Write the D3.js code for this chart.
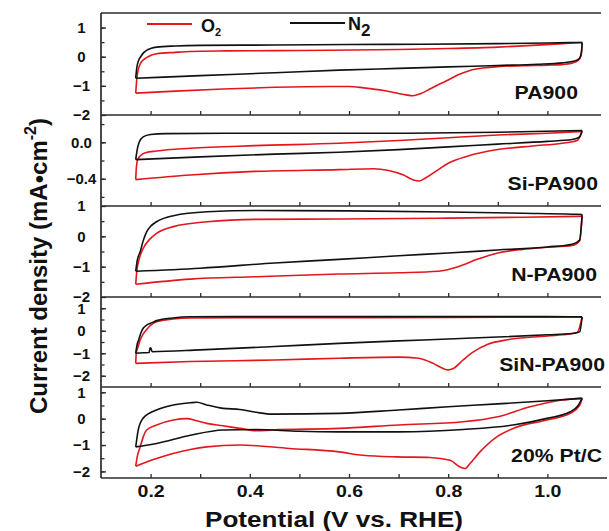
<!DOCTYPE html>
<html>
<head>
<meta charset="utf-8">
<script src="https://cdn.jsdelivr.net/npm/d3@7"></script>
<style>
  body { margin: 0; background: #fff; }
  text { font-family: Arial, "Liberation Sans", sans-serif; font-weight: bold; fill: #111; }
</style>
</head>
<body>
<svg id="chart" width="609" height="531"></svg>
<script>
// ---- Cyclic voltammograms: [potential (V vs. RHE), current density (mA cm^-2)] ----
// Fwd = anodic sweep (upper branch), Rev = cathodic sweep (lower branch)

// PA900
const pa900O2Fwd = [[0.17,-1.25],[0.172,-0.8],[0.175,-0.45],[0.18,-0.22],[0.186,-0.1],[0.195,0.0],[0.212,0.1],[0.25,0.15],[0.28,0.18],[0.35,0.2],[0.45,0.21],[0.56,0.22],[0.7,0.25],[0.8,0.28],[0.9,0.33],[0.96,0.38],[1.03,0.45],[1.07,0.49]];
const pa900O2Rev = [[0.17,-1.25],[0.25,-1.18],[0.346,-1.11],[0.45,-1.05],[0.56,-1.02],[0.6,-1.02],[0.63,-1.07],[0.67,-1.16],[0.7,-1.26],[0.715,-1.31],[0.729,-1.34],[0.745,-1.26],[0.763,-1.11],[0.78,-0.96],[0.8,-0.8],[0.82,-0.62],[0.844,-0.47],[0.87,-0.39],[0.9,-0.34],[0.95,-0.31],[1.0,-0.29],[1.03,-0.27],[1.05,-0.22],[1.062,-0.13],[1.068,0.05],[1.07,0.49]];
const pa900N2Fwd = [[0.17,-0.74],[0.172,-0.4],[0.176,-0.12],[0.18,0.0],[0.186,0.14],[0.192,0.22],[0.2,0.28],[0.212,0.33],[0.25,0.37],[0.3,0.39],[0.45,0.4],[0.6,0.42],[0.75,0.43],[0.9,0.45],[1.0,0.47],[1.07,0.49]];
const pa900N2Rev = [[0.17,-0.74],[0.3,-0.65],[0.45,-0.55],[0.58,-0.46],[0.7,-0.4],[0.8,-0.35],[0.9,-0.3],[0.98,-0.26],[1.03,-0.21],[1.055,-0.15],[1.065,-0.05],[1.069,0.2],[1.07,0.49]];

// Si-PA900
const siO2Fwd = [[0.17,-0.41],[0.171,-0.3],[0.174,-0.19],[0.18,-0.145],[0.19,-0.115],[0.212,-0.096],[0.28,-0.066],[0.41,-0.037],[0.58,-0.011],[0.7,0.02],[0.8,0.05],[0.9,0.08],[1.0,0.1],[1.07,0.12]];
const siO2Rev = [[0.17,-0.41],[0.28,-0.36],[0.41,-0.32],[0.58,-0.3],[0.65,-0.29],[0.68,-0.31],[0.71,-0.36],[0.73,-0.415],[0.742,-0.425],[0.755,-0.39],[0.78,-0.3],[0.8,-0.23],[0.84,-0.15],[0.9,-0.08],[0.97,-0.04],[1.03,-0.01],[1.06,0.02],[1.07,0.12]];
const siN2Fwd = [[0.17,-0.19],[0.173,-0.08],[0.177,0.0],[0.185,0.06],[0.2,0.085],[0.23,0.095],[0.4,0.1],[0.7,0.1],[0.9,0.11],[1.07,0.13]];
const siN2Rev = [[0.17,-0.19],[0.3,-0.16],[0.45,-0.13],[0.58,-0.11],[0.7,-0.08],[0.8,-0.05],[0.9,-0.02],[1.0,0.01],[1.05,0.03],[1.065,0.06],[1.07,0.13]];

// N-PA900
const nO2Fwd = [[0.17,-1.58],[0.172,-1.17],[0.177,-0.75],[0.185,-0.4],[0.198,-0.1],[0.212,0.1],[0.246,0.32],[0.314,0.48],[0.415,0.56],[0.58,0.57],[0.8,0.6],[0.95,0.63],[1.07,0.66]];
const nO2Rev = [[0.17,-1.58],[0.28,-1.41],[0.415,-1.33],[0.58,-1.24],[0.7,-1.2],[0.78,-1.15],[0.82,-1.0],[0.86,-0.75],[0.9,-0.55],[0.95,-0.43],[1.0,-0.36],[1.05,-0.3],[1.065,-0.15],[1.07,0.66]];
const nN2Fwd = [[0.17,-1.15],[0.173,-0.8],[0.179,-0.51],[0.185,-0.15],[0.192,0.15],[0.2,0.33],[0.212,0.48],[0.246,0.68],[0.314,0.81],[0.415,0.85],[0.6,0.84],[0.8,0.8],[0.95,0.76],[1.05,0.73],[1.07,0.72]];
const nN2Rev = [[0.17,-1.15],[0.3,-1.05],[0.45,-0.88],[0.58,-0.76],[0.7,-0.64],[0.8,-0.55],[0.9,-0.45],[1.0,-0.35],[1.05,-0.26],[1.065,-0.12],[1.07,0.72]];

// SiN-PA900
const sinO2Fwd = [[0.17,-1.45],[0.171,-1.0],[0.175,-0.7],[0.179,-0.41],[0.185,-0.15],[0.192,0.06],[0.2,0.24],[0.212,0.4],[0.245,0.52],[0.28,0.57],[0.5,0.58],[0.8,0.59],[1.0,0.6],[1.07,0.6]];
const sinO2Rev = [[0.17,-1.45],[0.28,-1.37],[0.45,-1.3],[0.58,-1.22],[0.7,-1.17],[0.74,-1.22],[0.77,-1.45],[0.79,-1.68],[0.8,-1.74],[0.81,-1.68],[0.83,-1.3],[0.85,-0.95],[0.88,-0.6],[0.92,-0.4],[0.97,-0.28],[1.03,-0.18],[1.06,-0.08],[1.07,0.6]];
const sinN2Fwd = [[0.17,-1.0],[0.173,-0.6],[0.176,-0.41],[0.18,-0.12],[0.185,0.11],[0.192,0.25],[0.2,0.33],[0.212,0.45],[0.245,0.57],[0.28,0.62],[0.5,0.63],[0.8,0.63],[1.0,0.63],[1.07,0.62]];
const sinN2Rev = [[0.17,-1.0],[0.185,-0.98],[0.197,-0.97],[0.199,-0.76],[0.201,-0.8],[0.203,-0.93],[0.3,-0.85],[0.45,-0.7],[0.58,-0.56],[0.7,-0.45],[0.8,-0.37],[0.9,-0.28],[1.0,-0.18],[1.05,-0.12],[1.065,-0.05],[1.07,0.62]];

// 20% Pt/C
const ptO2Fwd = [[0.17,-1.8],[0.173,-1.45],[0.179,-1.07],[0.185,-0.7],[0.192,-0.43],[0.212,-0.24],[0.246,-0.05],[0.273,0.0],[0.293,-0.08],[0.313,-0.18],[0.346,-0.27],[0.38,-0.37],[0.413,-0.46],[0.445,-0.43],[0.58,-0.37],[0.7,-0.24],[0.83,-0.12],[0.9,0.07],[0.965,0.45],[1.03,0.71],[1.07,0.77]];
const ptO2Rev = [[0.17,-1.8],[0.212,-1.51],[0.28,-1.17],[0.313,-1.07],[0.38,-1.0],[0.48,-1.13],[0.58,-1.26],[0.628,-1.39],[0.697,-1.45],[0.763,-1.47],[0.804,-1.58],[0.824,-1.83],[0.834,-1.89],[0.844,-1.7],[0.864,-1.26],[0.898,-0.69],[0.931,-0.37],[0.999,-0.05],[1.046,0.2],[1.065,0.5],[1.07,0.77]];
const ptN2Fwd = [[0.17,-1.07],[0.172,-0.8],[0.175,-0.43],[0.185,0.02],[0.212,0.33],[0.246,0.52],[0.28,0.6],[0.293,0.62],[0.313,0.52],[0.346,0.39],[0.38,0.35],[0.413,0.24],[0.445,0.17],[0.58,0.2],[0.7,0.33],[0.8,0.45],[0.9,0.56],[1.0,0.68],[1.07,0.77]];
const ptN2Rev = [[0.17,-1.07],[0.212,-0.94],[0.28,-0.63],[0.346,-0.43],[0.413,-0.41],[0.5,-0.48],[0.58,-0.5],[0.7,-0.5],[0.83,-0.41],[0.931,-0.24],[0.999,0.01],[1.046,0.26],[1.062,0.5],[1.07,0.77]];

// ---- Panels, axes and ticks ----
const panelNames = ["PA900", "Si-PA900", "N-PA900", "SiN-PA900", "20% Pt/C"];
const panelDomains = [[-2, 1.5], [-0.7, 0.3], [-2, 1], [-2.5, 1.5], [-2.25, 1.2]];
const yTickLabels = [[1, 0, -1, -2], [0.0, -0.4], [1, 0, -1, -2], [1, 0, -1, -2], [1, 0, -1, -2]];
const yTickFormats = ["d", ".1f", "d", "d", "d"];
const yMinorTicks = [
  [1, 0.5, 0, -0.5, -1, -1.5],
  [0.2, 0, -0.2, -0.4, -0.6],
  [0.5, 0, -0.5, -1, -1.5],
  [1, 0.5, 0, -0.5, -1, -1.5, -2],
  [1, 0.5, 0, -0.5, -1, -1.5, -2]
];
const xTickLabels = [0.2, 0.4, 0.6, 0.8, 1.0];
const xMinorTicks = [0.2, 0.3, 0.4, 0.5, 0.6, 0.7, 0.8, 0.9, 1.0];
const panelCurves = [
  { o2: [pa900O2Fwd, pa900O2Rev], n2: [pa900N2Fwd, pa900N2Rev] },
  { o2: [siO2Fwd, siO2Rev],       n2: [siN2Fwd, siN2Rev] },
  { o2: [nO2Fwd, nO2Rev],         n2: [nN2Fwd, nN2Rev] },
  { o2: [sinO2Fwd, sinO2Rev],     n2: [sinN2Fwd, sinN2Rev] },
  { o2: [ptO2Fwd, ptO2Rev],       n2: [ptN2Fwd, ptN2Rev] }
];

// ---- Layout ----
const left = 101, right = 597;
const panelEdges = [13, 115, 206, 297, 387, 478];
const labelEnds = [578, 598, 597, 605, 602];
const red = "#e3161e", black = "#111";
const frame = "#2b2b2b";

const svg = d3.select("#chart");
const x = d3.scaleLinear().domain([0.1, 1.1]).range([left, right]);

function stretch(sel, k) {
  sel.each(function () {
    const w = this.getComputedTextLength();
    d3.select(this).attr("textLength", w * k).attr("lengthAdjust", "spacingAndGlyphs");
  });
}

panelCurves.forEach((curves, i) => {
  const top = panelEdges[i], bottom = panelEdges[i + 1];
  const y = d3.scaleLinear().domain(panelDomains[i]).range([bottom, top]);
  const g = svg.append("g");

  const line = d3.line().x(d => x(d[0])).y(d => y(d[1])).curve(d3.curveMonotoneX);

  // O2 first, N2 on top
  [[curves.o2, red], [curves.n2, black]].forEach(([branches, color]) => {
    branches.forEach(b => {
      g.append("path").attr("d", line(b)).attr("fill", "none")
        .attr("stroke", color).attr("stroke-width", 1.6).attr("stroke-linejoin", "round");
    });
  });

  // y ticks (inward)
  const yMinor = g.append("g").attr("transform", `translate(${left},0)`)
    .call(d3.axisLeft(y).tickValues(yMinorTicks[i]).tickSize(-3.5).tickFormat(""));
  yMinor.select(".domain").remove();
  yMinor.selectAll("line").attr("stroke", frame).attr("stroke-width", 1.3);

  const yMajor = g.append("g").attr("transform", `translate(${left},0)`)
    .call(d3.axisLeft(y).tickValues(yTickLabels[i]).tickSize(-5)
      .tickFormat(d3.format(yTickFormats[i])).tickPadding(0));
  yMajor.select(".domain").remove();
  yMajor.selectAll("line").attr("stroke", frame).attr("stroke-width", 1.3);
  yMajor.selectAll("text").attr("x", -19.5).attr("text-anchor", "middle")
    .attr("font-size", 15).attr("font-family", null).attr("fill", "#111");

  // x ticks (inward) along each panel's lower edge
  const xAx = g.append("g").attr("transform", `translate(0,${bottom})`)
    .call(d3.axisBottom(x).tickValues(xMinorTicks).tickSize(-4).tickFormat(""));
  xAx.select(".domain").remove();
  xAx.selectAll("line").attr("stroke", frame).attr("stroke-width", 1.3);

  if (i === panelCurves.length - 1) {
    const xLab = g.append("g").attr("transform", `translate(0,${bottom})`)
      .call(d3.axisBottom(x).tickValues(xTickLabels).tickSize(0)
        .tickFormat(d3.format(".1f")).tickPadding(8));
    xLab.select(".domain").remove();
    xLab.selectAll("text").attr("font-size", 16).attr("font-family", null).attr("fill", "#111")
      .call(stretch, 1.22);
  }

  // horizontal frame line on the top of each panel
  g.append("line").attr("x1", left).attr("x2", right + 4)
    .attr("y1", top).attr("y2", top).attr("stroke", frame).attr("stroke-width", 1.7);

  // panel name
  g.append("text").attr("x", labelEnds[i]).attr("y", bottom - 16)
    .attr("text-anchor", "end").attr("font-size", 18).text(panelNames[i])
    .call(stretch, 1.18);
});

// bottom frame line and left axis line
svg.append("line").attr("x1", left).attr("x2", right + 10)
  .attr("y1", panelEdges[5]).attr("y2", panelEdges[5]).attr("stroke", frame).attr("stroke-width", 1.7);
svg.append("line").attr("x1", left).attr("x2", left)
  .attr("y1", panelEdges[0]).attr("y2", panelEdges[5]).attr("stroke", frame).attr("stroke-width", 1.7);

// ---- Legend ----
const legend = svg.append("g");
legend.append("line").attr("x1", 147).attr("x2", 192).attr("y1", 24).attr("y2", 24)
  .attr("stroke", red).attr("stroke-width", 2);
const o2Text = legend.append("text").attr("x", 201).attr("y", 32).attr("font-size", 18);
o2Text.append("tspan").text("O");
o2Text.append("tspan").attr("font-size", 11).attr("dy", 4).text("2");

legend.append("line").attr("x1", 290).attr("x2", 345).attr("y1", 23).attr("y2", 23)
  .attr("stroke", black).attr("stroke-width", 2);
const n2Text = legend.append("text").attr("x", 348).attr("y", 30).attr("font-size", 18);
n2Text.append("tspan").text("N");
n2Text.append("tspan").attr("font-size", 17).attr("dy", 6).text("2");

// ---- Axis titles ----
svg.append("text").attr("x", 334).attr("y", 527).attr("text-anchor", "middle")
  .attr("font-size", 22).attr("textLength", 258).attr("lengthAdjust", "spacingAndGlyphs")
  .text("Potential (V vs. RHE)");

const yTitle = svg.append("text")
  .attr("transform", "translate(47,266) rotate(-90)")
  .attr("text-anchor", "middle").attr("font-size", 24);
yTitle.append("tspan").text("Current density (mA\u2022cm");
yTitle.append("tspan").attr("font-size", 16).attr("dy", -11).text("-2");
yTitle.append("tspan").attr("dy", 11).text(")");
</script>
</body>
</html>
